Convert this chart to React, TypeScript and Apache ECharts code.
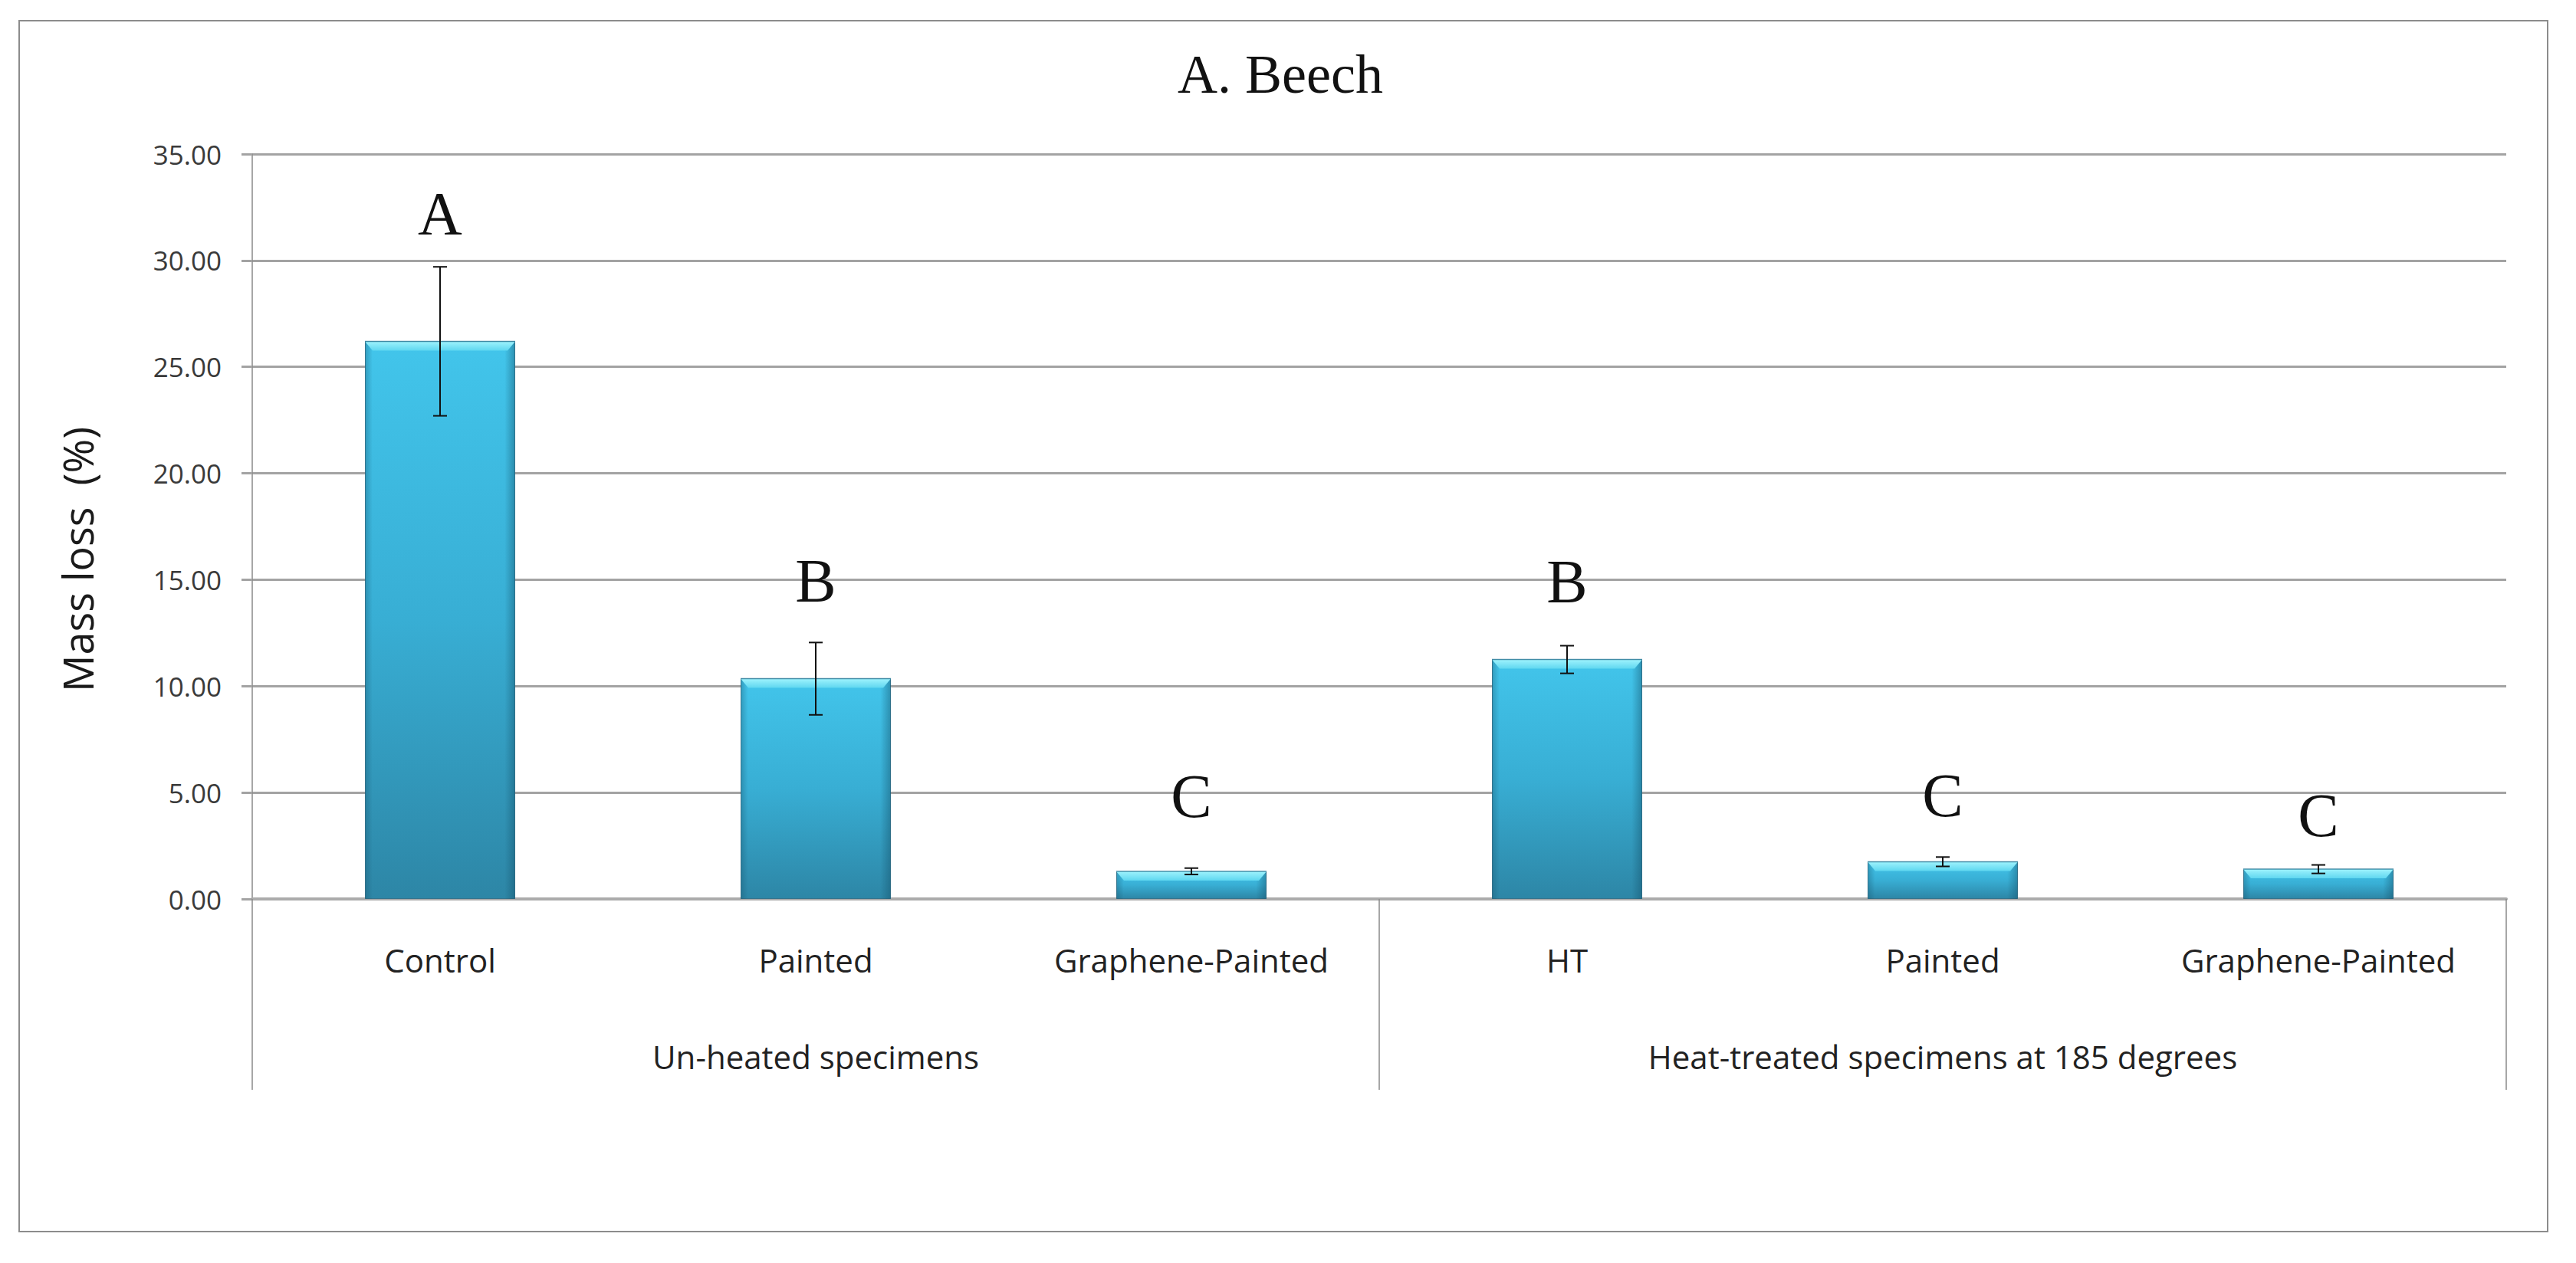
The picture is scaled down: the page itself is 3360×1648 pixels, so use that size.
import React, { useEffect, useRef } from "react";
import * as echarts from "echarts";

// Treatments along the x axis and the two specimen groups beneath them
const categories = ["Control", "Painted", "Graphene-Painted", "HT", "Painted", "Graphene-Painted"];
const groups = ["Un-heated specimens", "Heat-treated specimens at 185 degrees"];

// Mean mass loss (%) and its standard deviation per treatment
const massLoss = [26.2, 10.35, 1.3, 11.25, 1.75, 1.4];
const massLossSd = [3.5, 1.7, 0.15, 0.65, 0.22, 0.2];

// Significance letters and the height (in % units) each is set at
const letters = ["A", "B", "C", "B", "C", "C"];
const letterLevels = [32.2, 14.96, 4.83, 14.9, 4.87, 3.91];

// Value-axis settings
const yMin = 0;
const yMax = 35;
const yStep = 5;

const SANS = "'Open Sans', 'Noto Sans', sans-serif";
const SERIF = "'Liberation Serif', 'DejaVu Serif', serif";
const BAR_RATIO = 0.4;

export default function App() {
  const ref = useRef<HTMLDivElement>(null);

  useEffect(() => {
    if (!ref.current) return;
    const chart = echarts.init(ref.current, null, { renderer: "svg" });

    const barFill = new echarts.graphic.LinearGradient(0, 0, 0, 1, [
      { offset: 0, color: "#42c5eb" },
      { offset: 0.5, color: "#38aed4" },
      { offset: 1, color: "#2d86a6" },
    ]);

    const option: any = {
      animation: false,
      backgroundColor: "#ffffff",
      grid: { left: 329, right: 91, top: 201, bottom: 475, containLabel: false },
      graphic: [
        {
          type: "rect",
          shape: { x: 25, y: 27, width: 3298, height: 1580 },
          style: { fill: "none", stroke: "#8c8c8c", lineWidth: 2 },
          z: 0,
        },
        {
          type: "text",
          x: 1670,
          y: 97,
          style: {
            text: "A. Beech",
            font: `72px ${SERIF}`,
            fill: "#111111",
            textAlign: "center",
            textVerticalAlign: "middle",
            align: "center",
            verticalAlign: "middle",
          },
        },
        {
          type: "text",
          x: 101,
          y: 730,
          rotation: Math.PI / 2,
          style: {
            text: "Mass loss  (%)",
            font: `54px ${SANS}`,
            fill: "#1a1a1a",
            textAlign: "center",
            textVerticalAlign: "middle",
            align: "center",
            verticalAlign: "middle",
          },
        },
      ],
      xAxis: [
        {
          type: "category",
          data: categories,
          position: "bottom",
          axisLine: { show: true, lineStyle: { color: "#ababab", width: 4 } },
          axisTick: { show: false },
          splitLine: { show: false },
          axisLabel: {
            interval: 0,
            margin: 58,
            fontFamily: SANS,
            fontSize: 42,
            color: "#222222",
          },
        },
        {
          type: "category",
          data: groups,
          position: "bottom",
          axisLine: { show: false },
          axisTick: { show: true, length: 249, lineStyle: { color: "#8a8a8a", width: 1.5 } },
          splitLine: { show: false },
          axisLabel: {
            interval: 0,
            margin: 184,
            fontFamily: SANS,
            fontSize: 42,
            color: "#222222",
          },
        },
      ],
      yAxis: {
        type: "value",
        min: yMin,
        max: yMax,
        interval: yStep,
        axisLine: { show: true, lineStyle: { color: "#8a8a8a", width: 1.5 } },
        axisTick: { show: true, length: 14, lineStyle: { color: "#a3a3a3", width: 3 } },
        splitLine: { show: true, lineStyle: { color: "#a3a3a3", width: 3 } },
        axisLabel: {
          margin: 40,
          fontFamily: SANS,
          fontSize: 35,
          color: "#3a3a3a",
          formatter: (v: number) => v.toFixed(2),
        },
      },
      series: [
        {
          type: "bar",
          xAxisIndex: 0,
          data: massLoss,
          barWidth: `${BAR_RATIO * 100}%`,
          itemStyle: { color: barFill, borderColor: "rgba(32,100,128,0.7)", borderWidth: 1 },
          z: 2,
        },
        {
          // bevel highlight on top of each bar and darker side edges
          type: "custom",
          xAxisIndex: 0,
          data: massLoss.map((v, i) => [i, v]),
          z: 3,
          silent: true,
          renderItem: (params: any, api: any) => {
            const i = api.value(0);
            const v = api.value(1);
            const top = api.coord([i, v]);
            const base = api.coord([i, 0]);
            const w = api.size([1, 0])[0] * BAR_RATIO;
            const x0 = top[0] - w / 2;
            const x1 = top[0] + w / 2;
            const h = base[1] - top[1];
            const bh = Math.min(12, h * 0.45);
            return {
              type: "group",
              children: [
                {
                  type: "rect",
                  shape: { x: x0, y: top[1], width: w, height: h },
                  style: {
                    fill: new echarts.graphic.LinearGradient(0, 0, 1, 0, [
                      { offset: 0, color: "rgba(20,80,105,0.35)" },
                      { offset: 0.05, color: "rgba(20,80,105,0.0)" },
                      { offset: 0.93, color: "rgba(20,80,105,0.0)" },
                      { offset: 1, color: "rgba(20,80,105,0.45)" },
                    ]),
                  },
                },
                {
                  type: "polygon",
                  shape: {
                    points: [
                      [x0, top[1]],
                      [x1, top[1]],
                      [x1 - 10, top[1] + bh],
                      [x0 + 10, top[1] + bh],
                    ],
                  },
                  style: {
                    fill: new echarts.graphic.LinearGradient(0, 0, 0, 1, [
                      { offset: 0, color: "#9ff3fd" },
                      { offset: 1, color: "#5fd7f0" },
                    ]),
                  },
                },
                {
                  type: "line",
                  shape: { x1: x0, y1: top[1], x2: x1, y2: top[1] },
                  style: { stroke: "rgba(40,120,150,0.8)", lineWidth: 1.5 },
                },
              ],
            };
          },
        },
        {
          // standard-deviation error bars
          type: "custom",
          xAxisIndex: 0,
          data: massLoss.map((v, i) => [i, v, massLossSd[i]]),
          z: 4,
          silent: true,
          renderItem: (params: any, api: any) => {
            const i = api.value(0);
            const m = api.value(1);
            const s = api.value(2);
            const hi = api.coord([i, m + s]);
            const lo = api.coord([i, m - s]);
            const cap = 9;
            const st = { stroke: "#111111", lineWidth: 2 };
            return {
              type: "group",
              children: [
                { type: "line", shape: { x1: hi[0], y1: hi[1], x2: lo[0], y2: lo[1] }, style: st },
                { type: "line", shape: { x1: hi[0] - cap, y1: hi[1], x2: hi[0] + cap, y2: hi[1] }, style: st },
                { type: "line", shape: { x1: lo[0] - cap, y1: lo[1], x2: lo[0] + cap, y2: lo[1] }, style: st },
              ],
            };
          },
        },
        {
          // significance letters
          type: "custom",
          xAxisIndex: 0,
          data: letterLevels.map((v, i) => [i, v]),
          z: 5,
          silent: true,
          renderItem: (params: any, api: any) => {
            const p = api.coord([api.value(0), api.value(1)]);
            return {
              type: "text",
              x: p[0],
              y: p[1],
              style: {
                text: letters[params.dataIndex],
                font: `80px ${SERIF}`,
                fill: "#111111",
                align: "center",
                verticalAlign: "middle",
              },
            };
          },
        },
      ],
    };

    chart.setOption(option);
    return () => chart.dispose();
  }, []);

  return (
    <div
      ref={ref}
      style={{ position: "absolute", left: 0, top: 0, width: 3360, height: 1648, background: "#fff" }}
    />
  );
}
